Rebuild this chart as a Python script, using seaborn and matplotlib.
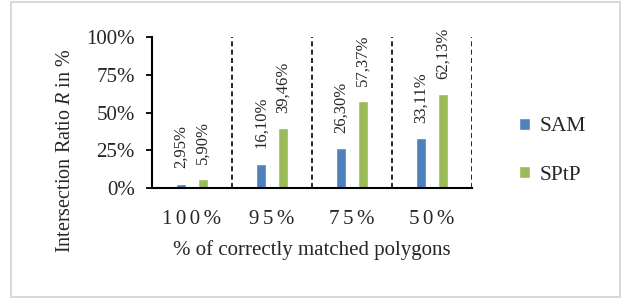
import matplotlib
matplotlib.use("Agg")
import matplotlib.pyplot as plt
from matplotlib.patches import Rectangle
import seaborn as sns
import pandas as pd

# values (percent)
SP = "\u200a\u200a"  # small gaps give the letter-spaced look of the x labels
categories = [SP.join("100%"), SP.join("95%"), SP.join("75%"), SP.join("50%")]
methods = ["SAM", "SPtP"]
sam_values = [2.95, 16.10, 26.30, 33.11]
sptp_values = [5.90, 39.46, 57.37, 62.13]
y_ticks = [0, 25, 50, 75, 100]

colors = {"SAM": "#4F81BD", "SPtP": "#9BBB59"}

df = pd.DataFrame({
    "group": categories * 2,
    "method": ["SAM"] * 4 + ["SPtP"] * 4,
    "value": sam_values + sptp_values,
})

sns.set_style("white")
plt.rcParams["font.family"] = ["Liberation Serif", "DejaVu Serif"]
plt.rcParams["mathtext.fontset"] = "custom"
plt.rcParams["mathtext.rm"] = "Liberation Serif"
plt.rcParams["mathtext.it"] = "Liberation Serif:italic"

fig = plt.figure(figsize=(6.21, 2.98), dpi=100)
ax = fig.add_axes([152 / 621, 1 - 188 / 298, 320 / 621, 151 / 298])

sns.barplot(data=df, x="group", y="value", hue="method", hue_order=methods,
            palette=colors, width=0.55, gap=0.55, ax=ax, saturation=1)

# data labels, comma decimal separator
for cont in ax.containers:
    labels = [f"{b.get_height():.2f}%".replace(".", ",") for b in cont]
    ax.bar_label(cont, labels=labels, rotation=90, padding=11, fontsize=12)

ax.set_xlim(-0.5, 3.5)
ax.set_ylim(0, 100)
ax.set_yticks(y_ticks)
ax.set_yticklabels([f"{v}%" for v in y_ticks], fontsize=15)
ax.tick_params(axis="y", direction="out", length=4.5, width=1.3, color="black", pad=8, left=True)
ax.tick_params(axis="x", length=0, pad=16, labelsize=15)

# separators between groups
for xpos in [0.5, 1.5, 2.5, 3.5]:
    ax.axvline(xpos, color="black", linestyle=(0, (3, 2)), linewidth=1.2)

for side in ["top", "right"]:
    ax.spines[side].set_visible(False)
for side in ["left", "bottom"]:
    ax.spines[side].set_color("black")
    ax.spines[side].set_linewidth(1.5)

ax.set_xlabel("% of correctly matched polygons", fontsize=15)
ax.set_ylabel("Intersection Ratio $R$ in %", fontsize=14.5)
ax.yaxis.set_label_coords(-0.24, 0.25)
ax.xaxis.set_label_coords(0.5, -0.345)

sns.move_legend(ax, loc="center left", bbox_to_anchor=(500 / 621, 1 - 151 / 298),
                bbox_transform=fig.transFigure, frameon=False, title=None,
                fontsize=15.5, handlelength=0.5, handleheight=0.5,
                handletextpad=0.45, labelspacing=1.35)

# light grey frame round the whole chart
fig.patches.append(Rectangle((11 / 621, 1 / 298), 609 / 621, 295 / 298,
                             transform=fig.transFigure, fill=False,
                             edgecolor="#D9D9D9", linewidth=1.5))

fig.savefig("out.png", dpi=100)
